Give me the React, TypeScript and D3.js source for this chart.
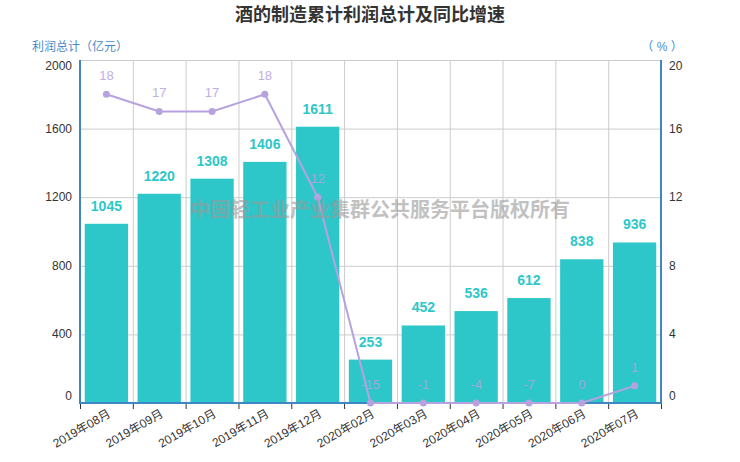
import React, {useEffect, useRef} from 'react'
import * as d3 from 'd3'

const months = ['2019年08月', '2019年09月', '2019年10月', '2019年11月', '2019年12月', '2020年02月', '2020年03月', '2020年04月', '2020年05月', '2020年06月', '2020年07月']
const profit = [1045, 1220, 1308, 1406, 1611, 253, 452, 536, 612, 838, 936]
const growth = [18, 17, 17, 18, 12, -15, -1, -4, -7, 0, 1]
const leftTicks = [0, 400, 800, 1200, 1600, 2000]
const rightTicks = [0, 4, 8, 12, 16, 20]

const W = 740, H = 462
const margin = {top: 60, right: 79, bottom: 59, left: 80}
const font = '"Liberation Sans", Arial, "Noto Sans CJK SC", sans-serif'
const barColor = '#2ec7c9'
const lineColor = '#b6a2de'
const axisColor = '#3f86c4'

// first and last tick labels are pushed inside the plot, like the original
const labelShift = (i: number, n: number) => (i === 0 ? -7 : i === n - 1 ? 6 : 0)

export default function App() {
  const ref = useRef<SVGSVGElement>(null)

  useEffect(() => {
    const svg = d3.select(ref.current)
    svg.selectAll('*').remove()

    const x0 = margin.left, x1 = W - margin.right
    const y0 = H - margin.bottom, y1 = margin.top

    const x = d3.scaleBand().domain(months).range([x0, x1]).paddingInner(0.18).paddingOuter(0.09)
    const xb = d3.scaleBand().domain(months).range([x0, x1])
    const yL = d3.scaleLinear().domain([0, 2000]).range([y0, y1])
    const yR = d3.scaleLinear().domain([0, 20]).range([y0, y1]).clamp(true)

    // title
    svg.append('text')
      .attr('x', W / 2).attr('y', 21)
      .attr('text-anchor', 'middle')
      .attr('font-family', font).attr('font-size', 18).attr('font-weight', 'bold')
      .attr('fill', '#333')
      .text('酒的制造累计利润总计及同比增速')

    // grid
    const grid = svg.append('g').attr('stroke', '#ccc').attr('stroke-width', 1)
    leftTicks.forEach(t => {
      grid.append('line').attr('x1', x0).attr('x2', x1).attr('y1', yL(t) + 0.5).attr('y2', yL(t) + 0.5)
    })
    months.forEach((m, i) => {
      if (i === 0) return
      grid.append('line').attr('x1', xb(m)! + 0.5).attr('x2', xb(m)! + 0.5).attr('y1', y1).attr('y2', y0)
    })

    // bars
    svg.append('g').selectAll('rect')
      .data(profit)
      .enter()
      .append('rect')
      .attr('x', (d, i) => x(months[i])!)
      .attr('width', x.bandwidth())
      .attr('y', d => yL(d))
      .attr('height', d => y0 - yL(d) - 1)
      .attr('fill', barColor)

    svg.append('g').selectAll('text')
      .data(profit)
      .enter()
      .append('text')
      .attr('x', (d, i) => x(months[i])! + x.bandwidth() / 2)
      .attr('y', d => yL(d) - 13)
      .attr('text-anchor', 'middle')
      .attr('font-family', font).attr('font-size', 14).attr('font-weight', 'bold')
      .attr('fill', barColor)
      .text(d => d)

    // axes lines
    const ax = svg.append('g').attr('stroke', axisColor).attr('stroke-width', 2)
    ax.append('line').attr('x1', x0).attr('x2', x0).attr('y1', y1).attr('y2', y0 + 1)
    ax.append('line').attr('x1', x1).attr('x2', x1).attr('y1', y1).attr('y2', y0 + 1)
    ax.append('line').attr('x1', x0).attr('x2', x1).attr('y1', y0).attr('y2', y0)

    // x ticks
    const xt = svg.append('g').attr('stroke', '#333').attr('stroke-width', 1)
    months.forEach(m => {
      xt.append('line').attr('x1', xb(m)! + 0.5).attr('x2', xb(m)! + 0.5).attr('y1', y0 + 1).attr('y2', y0 + 6)
    })
    xt.append('line').attr('x1', x1 + 0.5).attr('x2', x1 + 0.5).attr('y1', y0 + 1).attr('y2', y0 + 6)

    svg.append('g').selectAll('text')
      .data(months)
      .enter()
      .append('text')
      .attr('transform', d => 'translate(' + (xb(d)! + xb.bandwidth() / 2 + 5) + ',' + (y0 + 13) + ') rotate(-30)')
      .attr('text-anchor', 'end')
      .attr('font-family', font).attr('font-size', 12)
      .attr('fill', '#333')
      .text(d => d)

    // y labels
    svg.append('g').selectAll('text')
      .data(leftTicks)
      .enter()
      .append('text')
      .attr('x', x0 - 8).attr('y', (d, i) => yL(d) + 4 + labelShift(i, leftTicks.length))
      .attr('text-anchor', 'end')
      .attr('font-family', font).attr('font-size', 12)
      .attr('fill', '#333')
      .text(d => d)

    svg.append('g').selectAll('text')
      .data(rightTicks)
      .enter()
      .append('text')
      .attr('x', x1 + 8).attr('y', (d, i) => yR(d) + 4 + labelShift(i, rightTicks.length))
      .attr('font-family', font).attr('font-size', 12)
      .attr('fill', '#333')
      .text(d => d)

    svg.append('text')
      .attr('x', 32).attr('y', 51)
      .attr('font-family', font).attr('font-size', 12)
      .attr('fill', '#4a8cc9')
      .text('利润总计（亿元）')
    svg.append('text')
      .attr('x', x1 + 1).attr('y', 51)
      .attr('text-anchor', 'middle')
      .attr('font-family', font).attr('font-size', 12)
      .attr('fill', '#4a8cc9')
      .text('（ % ）')

    // line
    const cx = (i: number) => xb(months[i])! + xb.bandwidth() / 2
    const line = d3.line<number>()
      .x((d, i) => cx(i))
      .y(d => yR(d))
    svg.append('path')
      .datum(growth)
      .attr('d', line)
      .attr('fill', 'none')
      .attr('stroke', lineColor)
      .attr('stroke-width', 2)

    svg.append('g').selectAll('circle')
      .data(growth)
      .enter()
      .append('circle')
      .attr('cx', (d, i) => cx(i))
      .attr('cy', d => yR(d))
      .attr('r', 3.5)
      .attr('fill', lineColor)

    svg.append('g').selectAll('text')
      .data(growth)
      .enter()
      .append('text')
      .attr('x', (d, i) => cx(i))
      .attr('y', d => yR(d) - 14)
      .attr('text-anchor', 'middle')
      .attr('font-family', font).attr('font-size', 13)
      .attr('fill', lineColor)
      .attr('opacity', 0.85)
      .text(d => d)

    // watermark
    svg.append('text')
      .attr('x', 380).attr('y', 217)
      .attr('text-anchor', 'middle')
      .attr('font-family', font).attr('font-size', 20).attr('font-weight', 'bold')
      .attr('fill', '#999')
      .attr('opacity', 0.6)
      .text('中国轻工业产业集群公共服务平台版权所有')
  }, [])

  return (
    <svg ref={ref} width={W} height={H} style={{position: 'absolute', left: 0, top: 0, background: '#fff'}} />
  )
}
